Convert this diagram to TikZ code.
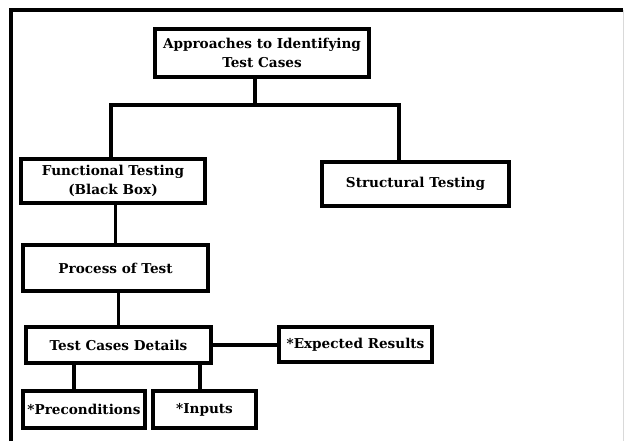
\documentclass[tikz,border=0pt]{standalone}
\usepackage{fontspec}
\setmainfont{DejaVu Serif}
\usepackage{tikz}

\begin{document}
\begin{tikzpicture}[x=0.03cm,y=-0.03cm,
    box/.style={draw=black,line width=3.2pt,fill=white,align=center,
      inner sep=1pt,font=\fontsize{11.6}{16}\selectfont\bfseries},
    conn/.style={black,line width=3.2pt}]
    \useasboundingbox[fill=white] (0,0) rectangle (624,441);
    \draw[black,line width=3.4pt] (11,441) -- (11,10) -- (623,10);
    \draw[black!15,line width=0.6pt] (623,10) -- (623,441);
    \node[box,minimum width=6.42cm,minimum height=1.44cm]
      (top) at (262,53) {Approaches to Identifying\\Test Cases};
    \node[box,minimum width=5.52cm,minimum height=1.32cm]
      (func) at (113,181) {Functional Testing\\(Black Box)};
    \node[box,minimum width=5.61cm,minimum height=1.32cm]
      (struct) at (415.5,184) {Structural Testing};
    \node[box,minimum width=5.55cm,minimum height=1.38cm]
      (proc) at (115.5,268) {Process of Test};
    \node[box,minimum width=5.55cm,minimum height=1.08cm]
      (tcd) at (118.5,345) {Test Cases Details};
    \node[box,minimum width=4.59cm,minimum height=1.05cm]
      (exp) at (355.5,344.5) {*Expected Results};
    \node[box,minimum width=3.66cm,minimum height=1.11cm]
      (pre) at (84,409.5) {*Preconditions};
    \node[box,minimum width=3.09cm,minimum height=1.11cm]
      (inp) at (204.5,409.5) {*Inputs};
    \coordinate (bus) at (255,105);
    \coordinate (busL) at (111,105);
    \coordinate (busR) at (399,105);
    \coordinate (preTop) at (74,391);
    \coordinate (inpTop) at (200,391);
    \draw[conn] (top.south -| bus) -- (bus);
    \draw[conn] (busL |- func.north) -- (busL) -- (busR) -- (busR |- struct.north);
    \draw[conn] (proc.north) -- (proc.north |- func.south);
    \draw[conn] (tcd.north) -- (tcd.north |- proc.south);
    \draw[conn] (tcd.east) -- (tcd.east -| exp.west);
    \draw[conn] (preTop) -- (preTop |- tcd.south);
    \draw[conn] (inpTop) -- (inpTop |- tcd.south);
  \end{tikzpicture}
\end{document}
